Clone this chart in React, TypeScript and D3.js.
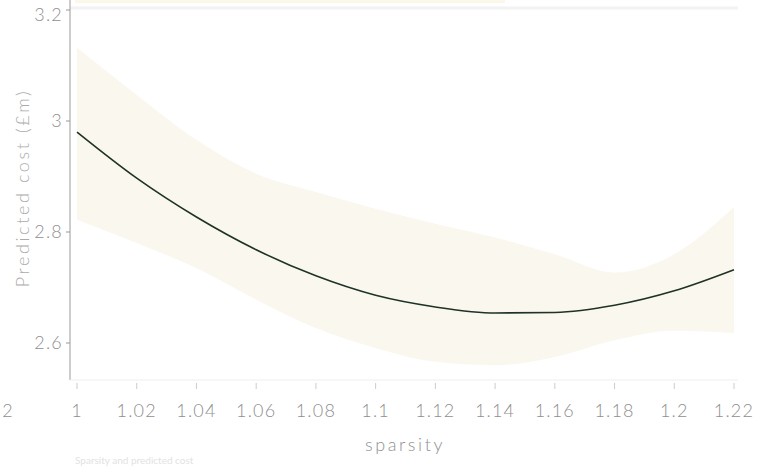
import React from "react";
import * as d3 from "d3";

const sparsity = [1, 1.02, 1.04, 1.06, 1.08, 1.1, 1.12, 1.14, 1.16, 1.18, 1.2, 1.22];
const predicted = [2.98, 2.897, 2.827, 2.768, 2.721, 2.686, 2.665, 2.654, 2.655, 2.668, 2.694, 2.732];
const upper = [3.132, 3.047, 2.966, 2.905, 2.872, 2.842, 2.815, 2.79, 2.76, 2.727, 2.76, 2.845];
const lower = [2.822, 2.78, 2.735, 2.678, 2.627, 2.591, 2.566, 2.56, 2.575, 2.605, 2.622, 2.618];
const xTicks = [1, 1.02, 1.04, 1.06, 1.08, 1.1, 1.12, 1.14, 1.16, 1.18, 1.2, 1.22];
const yTicks = [2.6, 2.8, 3, 3.2];

export default function App() {
  const W = 758, H = 466;
  const x = d3.scaleLinear().domain([1, 1.22]).range([77, 734]);
  const y = d3.scaleLinear().domain([2.6, 3.2]).range([343, 10]);
  const rows = sparsity.map((s, i) => ({ s, p: predicted[i], u: upper[i], l: lower[i] }));
  const area = d3.area<any>().x(d => x(d.s)).y0(d => y(d.l)).y1(d => y(d.u)).curve(d3.curveMonotoneX)(rows) || "";
  const line = d3.line<any>().x(d => x(d.s)).y(d => y(d.p)).curve(d3.curveMonotoneX)(rows) || "";
  const font = "Lato, 'Open Sans', sans-serif";
  const fmt = (v: number) => String(+v.toFixed(2));
  const tickStyle = { fontSize: 18, fill: "#8f8f8f", fontWeight: 300, letterSpacing: 1.2 } as any;
  return (
    <svg width={W} height={H} style={{ position: "absolute", left: 0, top: 0, background: "#fff" }} fontFamily={font}>
      <rect x={75} y={0} width={430} height={3} fill="#f6efcf" opacity={0.45} />
      <line x1={70} x2={738} y1={8} y2={8} stroke="#f2f2f2" strokeWidth={3} />
      <path d={area} fill="#faf7ee" />
      <path d={line} fill="none" stroke="#1e3226" strokeWidth={1.6} />
      <line x1={70} x2={70} y1={0} y2={380} stroke="#9a9a9a" strokeWidth={1} />
      <line x1={70} x2={738} y1={380} y2={380} stroke="#efefef" strokeWidth={1} />
      {yTicks.map(t => (
        <g key={t}>
          <line x1={66} x2={70} y1={y(t)} y2={y(t)} stroke="#999" />
          <text x={63} y={Math.max(y(t), 15)} dy="0.36em" textAnchor="end" {...tickStyle}>{fmt(t)}</text>
        </g>
      ))}
      {xTicks.map(t => (
        <g key={t}>
          <line x1={x(t)} x2={x(t)} y1={383} y2={389} stroke="#cccccc" />
          <text x={x(t)} y={417} textAnchor="middle" {...tickStyle}>{fmt(t)}</text>
        </g>
      ))}
      <text x={8} y={417} textAnchor="middle" {...tickStyle}>2</text>
      <text x={405} y={451} textAnchor="middle" fontSize={18} fill="#8f8f8f" fontWeight={300} letterSpacing={2.6}>sparsity</text>
      <text transform="translate(29,188) rotate(-90)" textAnchor="middle" fontSize={18} fill="#ababab" fontWeight={300} letterSpacing={2.6}>Predicted cost (£m)</text>
      <text x={75} y={464} fontSize={10} fill="#e2e2e2">Sparsity and predicted cost</text>
    </svg>
  );
}
